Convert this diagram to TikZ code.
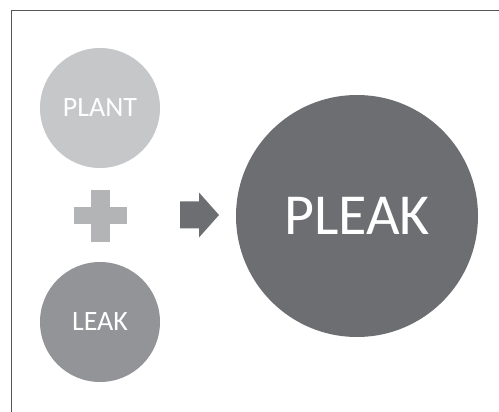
\documentclass[tikz,border=0pt]{standalone}
\usepackage{fontspec}
\setmainfont{Carlito}
\usepackage{xcolor}
\usepackage{tikz}
\usetikzlibrary{positioning,calc}
\definecolor{LightGrey}{HTML}{C6C7C9}
\definecolor{PlusGrey}{HTML}{B3B4B6}
\definecolor{MidGrey}{HTML}{939497}
\definecolor{DarkGrey}{HTML}{6D6E71}
\definecolor{FrameGrey}{HTML}{555555}
\begin{document}
\begin{tikzpicture}[x=1pt, y=-1pt]
\tikzset{blob/.style={circle, inner sep=0pt, text=white, minimum size=120pt, font=\fontsize{28}{30}\selectfont}, plantblob/.style={blob, fill=LightGrey}, leakblob/.style={blob, fill=MidGrey}, pleakblob/.style={blob, fill=DarkGrey, minimum size=242pt, font=\fontsize{58}{60}\selectfont}}
\useasboundingbox (0,0) rectangle (499,412);
\draw[FrameGrey, line width=1pt] (11,412) -- (11,11) -- (499,11);
\node[plantblob] (plant) at (100,108) {PLANT};
\node[leakblob] (leak) at (100,322) {LEAK};
\node[pleakblob] (pleak) at (357,216) {PLEAK};
\coordinate (plus) at (100,216);
\fill[PlusGrey] ($(plus)+(-9.5,-26)$) rectangle ($(plus)+(9.5,26)$);
\fill[PlusGrey] ($(plus)+(-26.5,-8.5)$) rectangle ($(plus)+(26.5,8.5)$);
\coordinate (tip) at (219,215);
\fill[DarkGrey] ($(tip)+(-39,-13.5)$) -- ($(tip)+(-20,-13.5)$) -- ($(tip)+(-20,-22.5)$) -- (tip) -- ($(tip)+(-20,22.5)$) -- ($(tip)+(-20,13.5)$) -- ($(tip)+(-39,13.5)$) -- cycle;
\end{tikzpicture}
\end{document}
